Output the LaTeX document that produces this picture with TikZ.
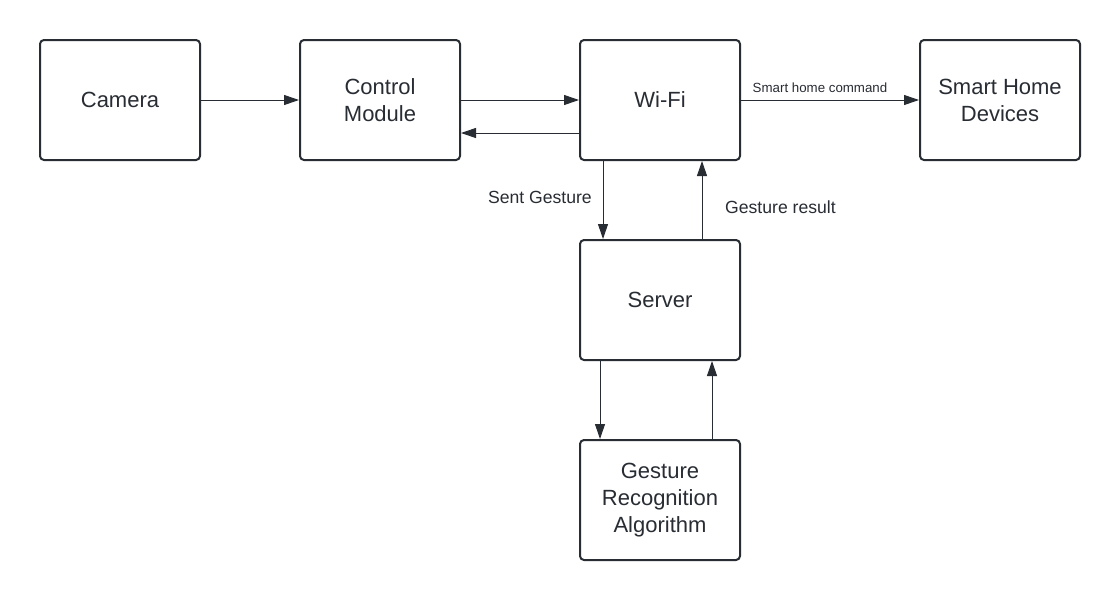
\documentclass[tikz,border=0pt]{standalone}
\usepackage{fontspec}
\setmainfont{Liberation Sans}
\usetikzlibrary{arrows.meta}
\definecolor{ink}{HTML}{282C33}
\tikzset{
  x=1pt, y=-1pt,
  blk/.style={draw=ink, line width=2pt, rounded corners=4pt, minimum width=160pt, minimum height=120pt, inner sep=0pt, align=center, text=ink, font=\fontsize{22}{27}\selectfont},
  conn/.style={draw=ink, line width=1pt, -{Triangle[length=15pt,width=10pt]}},
  lbl/.style={text=ink, font=\fontsize{17.6}{20}\selectfont, inner sep=0pt},
  slbl/.style={text=ink, font=\fontsize{13.3}{15}\selectfont, inner sep=0pt}
}
\begin{document}
\begin{tikzpicture}
\useasboundingbox[fill=white] (0,0) rectangle (1120,600);
\node[blk] (cam) at (120,100) {Camera};
\node[blk] (ctl) at (380,100) {Control\\Module};
\node[blk] (wifi) at (660,100) {Wi-Fi};
\node[blk] (shd) at (1000,100) {Smart Home\\Devices};
\node[blk] (srv) at (660,300) {Server};
\node[blk] (gra) at (660,500) {Gesture\\Recognition\\Algorithm};

\draw[conn] (cam.east |- 0,100) -- (ctl.west |- 0,100);
\draw[conn] (ctl.east |- 0,100) -- (wifi.west |- 0,100);
\draw[conn] (wifi.west |- 0,133) -- (ctl.east |- 0,133);
\draw[conn] (wifi.east |- 0,100) -- (shd.west |- 0,100);
\node[slbl] (lsh) at (820,88) {Smart home command};
\draw[conn] (wifi.south -| 603,0) -- (srv.north -| 603,0);
\node[lbl, anchor=east] (lsg) at (592,197) {Sent Gesture};
\draw[conn] (srv.north -| 702,0) -- (wifi.south -| 702,0);
\node[lbl, anchor=west] (lgr) at (725,207) {Gesture result};
\draw[conn] (srv.south -| 600,0) -- (gra.north -| 600,0);
\draw[conn] (gra.north -| 712,0) -- (srv.south -| 712,0);
\end{tikzpicture}
\end{document}
